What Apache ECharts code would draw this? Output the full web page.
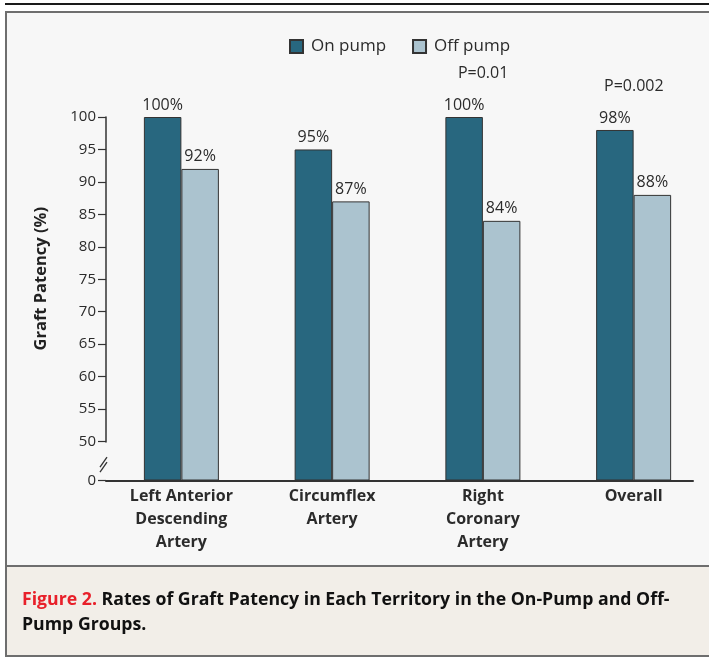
<!DOCTYPE html>
<html><head><meta charset="utf-8">
<script src="https://cdn.jsdelivr.net/npm/echarts@6/dist/echarts.min.js"></script>
<style>html,body{margin:0;padding:0;background:#fff}#c{width:709px;height:659px}</style>
</head><body><div id="c"></div>
<script>
const categories = ['Left Anterior\nDescending\nArtery', 'Circumflex\nArtery', 'Right\nCoronary\nArtery', 'Overall'];
const onPump = [100, 95, 100, 98];
const offPump = [92, 87, 84, 88];
const pValues = ['', '', 'P=0.01', 'P=0.002'];
const yTicks = [0, 50, 55, 60, 65, 70, 75, 80, 85, 90, 95, 100];
const seriesNames = ['On pump', 'Off pump'];
const captionRed = 'Figure 2.';
const captionText = ' Rates of Graft Patency in Each Territory in the On-Pump and Off-\nPump Groups.';

const FONT = '"Open Sans", sans-serif';
const chart = echarts.init(document.getElementById('c'), null, {renderer: 'canvas'});

const pData = [];
pValues.forEach((p, i) => { if (p) pData.push({name: p, coord: [i, onPump[i]]}); });

const option = {
  backgroundColor: '#ffffff',
  animation: false,
  textStyle: {fontFamily: FONT},
  legend: {
    left: 289, top: 38, padding: 0,
    itemWidth: 13, itemHeight: 13, itemGap: 26,
    icon: 'rect',
    textStyle: {fontFamily: FONT, fontSize: 17, color: '#2b2b2b', padding: [0, 0, 0, 3]},
    data: seriesNames
  },
  grid: [
    {left: 106, right: -2, top: 117, bottom: 178.5, containLabel: false},
    {left: 106, right: 16, top: 117, bottom: 178.5, containLabel: false}
  ],
  xAxis: [{
    type: 'category', gridIndex: 0, data: categories,
    axisLine: {show: false},
    axisTick: {show: false},
    axisLabel: {fontFamily: FONT, fontSize: 16, fontWeight: 'bold', color: '#2b2b2b', lineHeight: 23, margin: 4, interval: 0}
  }, {
    type: 'value', gridIndex: 1, min: 0, max: 1,
    axisLine: {show: true, onZero: false, lineStyle: {color: '#333', width: 2}},
    axisTick: {show: false}, axisLabel: {show: false}, splitLine: {show: false}
  }],
  yAxis: [{
    type: 'value', gridIndex: 0, min: 0, max: 100, interval: 5,
    breaks: [{start: 0, end: 50, gap: 6}],
    breakArea: {show: false, expandOnClick: false},
    axisLine: {show: true, lineStyle: {color: '#333', width: 1.5}},
    axisTick: {show: true, length: 8, lineStyle: {color: '#333', width: 1.2}},
    axisLabel: {fontFamily: FONT, fontSize: 15, color: '#2b2b2b', margin: 10},
    splitLine: {show: false},
    name: 'Graft Patency (%)', nameLocation: 'middle', nameGap: 56,
    nameTextStyle: {fontFamily: FONT, fontSize: 16.5, fontWeight: 'bold', color: '#222', padding: [0, 0, 0, 40]}
  }, {
    type: 'value', gridIndex: 1, show: false
  }],
  series: [{
    name: seriesNames[0], type: 'bar', xAxisIndex: 0, yAxisIndex: 0,
    data: onPump, barWidth: 37.5, barGap: '0%',
    itemStyle: {color: '#28677f', borderColor: '#333', borderWidth: 1},
    label: {show: true, position: 'top', distance: 4, formatter: '{c}%', fontFamily: FONT, fontSize: 16, color: '#2b2b2b'},
    markPoint: {
      symbol: 'circle', symbolSize: 0,
      label: {show: true, formatter: '{b}', offset: [19, -44], fontFamily: FONT, fontSize: 16, color: '#2b2b2b'},
      data: pData
    }
  }, {
    name: seriesNames[1], type: 'bar', xAxisIndex: 0, yAxisIndex: 0,
    data: offPump, barWidth: 37.5, barGap: '0%',
    itemStyle: {color: '#abc3cf', borderColor: '#333', borderWidth: 1},
    label: {show: true, position: 'top', distance: 4, formatter: '{c}%', fontFamily: FONT, fontSize: 16, color: '#2b2b2b'}
  }]
};
chart.setOption(option);

// decorations: panels, caption, break mark
const y0 = chart.convertToPixel({yAxisIndex: 0}, 0);
const y50 = chart.convertToPixel({yAxisIndex: 0}, 50);
const ym = (y0 + y50) / 2 + 2;
const ax = 106;
chart.setOption({
  graphic: [
    {type: 'rect', z: -10, silent: true, shape: {x: 0, y: 0, width: 709, height: 659}, style: {fill: '#ffffff'}},
    {type: 'rect', z: -9, silent: true, shape: {x: 5, y: 3, width: 710, height: 2}, style: {fill: '#1a1a1a'}},
    {type: 'rect', z: -9, silent: true, shape: {x: 6, y: 12, width: 710, height: 554}, style: {fill: '#f7f7f7', stroke: '#6e6e6e', lineWidth: 2}},
    {type: 'rect', z: -9, silent: true, shape: {x: 6, y: 566, width: 710, height: 90}, style: {fill: '#f2eee8', stroke: '#6e6e6e', lineWidth: 2}},
    {type: 'text', z: 10, left: 22, top: 591, style: {
      text: '{r|' + captionRed + '}{b|' + captionText.split('\n')[0] + '}\n{b|' + captionText.split('\n')[1] + '}',
      rich: {
        r: {fontFamily: FONT, fontSize: 17.7, fontWeight: 'bold', fill: '#e8202a', lineHeight: 25},
        b: {fontFamily: FONT, fontSize: 17.7, fontWeight: 'bold', fill: '#111', lineHeight: 25}
      }
    }},
    {type: 'polygon', z: 10, silent: true, shape: {points: [[ax - 5, ym + 4], [ax + 2, ym - 6], [ax + 2, ym - 1], [ax - 5, ym + 9]]}, style: {fill: '#f7f7f7'}},
    {type: 'line', z: 11, silent: true, shape: {x1: ax - 6, y1: ym + 4, x2: ax + 1, y2: ym - 6}, style: {stroke: '#333', lineWidth: 1.3}},
    {type: 'line', z: 11, silent: true, shape: {x1: ax - 6, y1: ym + 9, x2: ax + 1, y2: ym - 1}, style: {stroke: '#333', lineWidth: 1.3}}
  ]
});
</script></body></html>
